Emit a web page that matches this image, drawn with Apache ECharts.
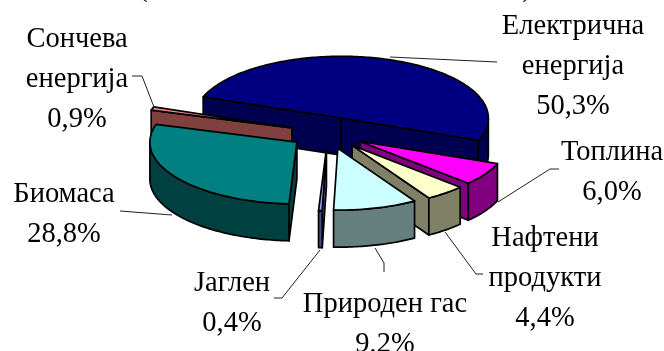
<!DOCTYPE html>
<html>
<head>
<meta charset="utf-8">
<style>html,body{margin:0;padding:0;background:#fff}#chart{width:664px;height:351px}</style>
<script src="https://cdn.jsdelivr.net/npm/echarts@6/dist/echarts.min.js"></script>
</head>
<body>
<div id="chart"></div>
<script>
// clockwise from the first slice, as in the original
const categories = ['Електрична\nенергија', 'Топлина', 'Нафтени\nпродукти', 'Природен гас', 'Јаглен', 'Биомаса', 'Сончева\nенергија'];
const values = [50.3, 6.0, 4.4, 9.2, 0.4, 28.8, 0.9];

const topColors = ['#000080', '#ff00ff', '#ffffcc', '#ccffff', '#9999ff', '#008080', '#ff8080'];
const sideColors = ['#000050', '#800080', '#808066', '#668080', '#4d4d80', '#004040', '#804040'];

// label centre and leader line per slice
const labelPos = [[573, 27], [612, 153], [545, 239], [385, 305], [232, 284], [64, 195], [77, 40]];
const leaders = [
  [[390, 57], [497, 62]],
  [[498, 202], [550, 169], [559, 169]],
  [[445, 232], [476, 274], [483, 274]],
  [[375, 248], [384, 263], [384, 272]],
  [[320, 250], [282, 298], [274, 298]],
  [[172, 215], [120, 211]],
  [[154, 107], [142, 76], [132, 76]]
];

const startAngle = 290;
const cx = 328, cy = 133, rx = 147, tilt = 0.42, depth = 37, explode = 38;
const lineHeight = 40;

const total = values.reduce((a, b) => a + b, 0);
let acc = startAngle;
const slices = values.map((v, i) => {
  const from = acc;
  acc += v / total * 360;
  return {i, from, to: acc, mid: (from + acc) / 2};
});
const rad = d => d * Math.PI / 180;
// back slices first
const drawOrder = slices.slice().sort((a, b) => Math.cos(rad(b.mid)) - Math.cos(rad(a.mid)));

function renderSlice(params, api) {
  const s = drawOrder[api.value(0)];
  const ox = cx + explode * Math.sin(rad(s.mid));
  const oy = cy - explode * tilt * Math.cos(rad(s.mid));
  const pt = deg => [ox + rx * Math.sin(rad(deg)), oy - rx * tilt * Math.cos(rad(deg))];
  const down = p => [p[0], p[1] + depth];
  const style = fill => ({fill: fill, stroke: '#000', lineWidth: 1.7, lineJoin: 'round'});
  const poly = (points, fill) => ({type: 'polygon', shape: {points: points}, style: style(fill)});
  const top = [[ox, oy]];
  for (let d = s.from; d < s.to; d += 1) top.push(pt(d));
  top.push(pt(s.to));

  const side = sideColors[s.i];
  const kids = [];
  // cut faces, only those turned towards the viewer
  const wall = deg => poly([[ox, oy], pt(deg), down(pt(deg)), [ox, oy + depth]], side);
  if (Math.cos(rad(s.from - 90)) < 0) kids.push(wall(s.from));
  if (Math.cos(rad(s.to + 90)) < 0) kids.push(wall(s.to));
  // rim between 90 and 270 degrees faces front
  for (const off of [0, 360]) {
    const a = Math.max(s.from, 90 + off), b = Math.min(s.to, 270 + off);
    if (b > a) {
      const upper = [];
      for (let d = a; d < b; d += 1) upper.push(pt(d));
      upper.push(pt(b));
      kids.push(poly(upper.concat(upper.map(down).reverse()), side));
    }
  }
  kids.push(poly(top, topColors[s.i]));
  return {type: 'group', children: kids};
}

const fmt = v => v.toFixed(1).replace('.', ',') + '%';
const graphic = [];
leaders.forEach(pts => graphic.push({
  type: 'polyline', shape: {points: pts}, style: {fill: 'none', stroke: '#222', lineWidth: 1}, z: 5
}));
categories.forEach((c, i) => graphic.push({
  type: 'text', x: labelPos[i][0], y: labelPos[i][1] - lineHeight / 2, z: 6,
  style: {
    text: c + '\n' + fmt(values[i]),
    fill: '#000', font: '28.5px "Liberation Serif"', lineHeight: lineHeight,
    align: 'center', verticalAlign: 'top'
  }
}));
// the line above the chart is cut off by the crop, only its brackets reach in
[['(', 143], [')', 527]].forEach(b => graphic.push({
  type: 'text', x: b[1], y: -26, z: 6,
  style: {text: b[0], fill: '#000', font: '28.5px "Liberation Serif"', align: 'center', verticalAlign: 'top'}
}));

const chart = echarts.init(document.getElementById('chart'), null, {renderer: 'canvas'});
chart.setOption({
  animation: false,
  backgroundColor: '#fff',
  graphic: graphic,
  series: [{
    type: 'custom',
    coordinateSystem: 'none',
    silent: true,
    data: drawOrder.map((s, n) => [n, values[s.i]]),
    renderItem: renderSlice
  }]
});
</script>
</body>
</html>
